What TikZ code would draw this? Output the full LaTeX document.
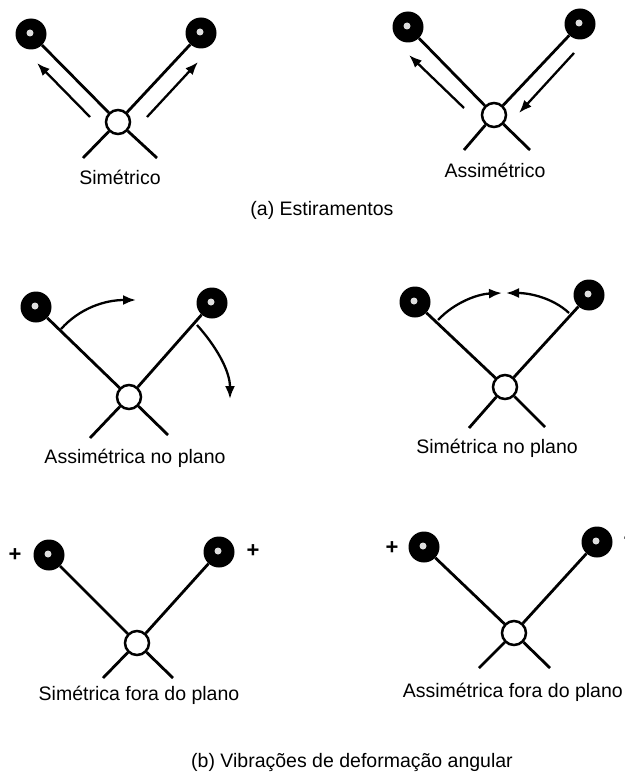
\documentclass[tikz,border=0pt]{standalone}
\usepackage{fontspec}
\setmainfont{Liberation Sans}
\usetikzlibrary{arrows.meta}

\begin{document}
\begin{tikzpicture}[
    x=1pt, y=-1pt,
    atom/.style={circle, fill=black, minimum size=31pt, inner sep=0pt,
        path picture={\fill[gray!25] ([xshift=-1pt,yshift=1pt]path picture bounding box.center) circle (3.5pt);}},
    core/.style={circle, draw, line width=2.5pt, fill=white, minimum size=24pt, inner sep=0pt},
    bond/.style={line width=2.8pt},
    arrow/.style={-{Latex[length=13pt,width=10pt]}, line width=2.3pt},
    lbl/.style={font=\fontsize{19.5}{22}\selectfont},
    sign/.style={font=\fontsize{22}{24}\selectfont\bfseries}
]
\useasboundingbox (0,0) rectangle (624,773);

% Stretching: symmetric
\node[core] (c1) at (118,122) {};
\node[atom] (l1) at (31,34) {};
\node[atom] (r1) at (201,33) {};
\coordinate (c1a) at (83,158);
\coordinate (c1b) at (157,158);
\draw[bond] (c1) -- (l1);
\draw[bond] (c1) -- (r1);
\draw[bond] (c1) -- (c1a);
\draw[bond] (c1) -- (c1b);
\coordinate (p1) at (90,117);
\coordinate (q1) at (37,63);
\coordinate (p2) at (147,117);
\coordinate (q2) at (198,62);
\draw[arrow] (p1) -- (q1);
\draw[arrow] (p2) -- (q2);
\node[lbl] (t1) at (120,177) {Simétrico};

% Stretching: asymmetric
\node[core] (c2) at (494,115) {};
\node[atom] (l2) at (408,27) {};
\node[atom] (r2) at (580,24) {};
\coordinate (c2a) at (464,150);
\coordinate (c2b) at (530,150);
\draw[bond] (c2) -- (l2);
\draw[bond] (c2) -- (r2);
\draw[bond] (c2) -- (c2a);
\draw[bond] (c2) -- (c2b);
\coordinate (p3) at (464,108);
\coordinate (q3) at (409,55);
\coordinate (p4) at (574,53);
\coordinate (q4) at (519,113);
\draw[arrow] (p3) -- (q3);
\draw[arrow] (p4) -- (q4);
\node[lbl] (t2) at (495,170) {Assimétrico};

\node[lbl] (ta) at (322,210) {(a) Estiramentos};

% Bending: asymmetric in plane
\node[core] (c3) at (129,397) {};
\node[atom] (l3) at (36,307) {};
\node[atom] (r3) at (212,303) {};
\coordinate (c3a) at (90,438);
\coordinate (c3b) at (168,435);
\draw[bond] (c3) -- (l3);
\draw[bond] (c3) -- (r3);
\draw[bond] (c3) -- (c3a);
\draw[bond] (c3) -- (c3b);
\coordinate (p5) at (61,329);
\coordinate (q5) at (136,300);
\coordinate (p6) at (197,325);
\coordinate (q6) at (230,399);
\draw[arrow] (p5) .. controls (80,308) and (105,300) .. (q5);
\draw[arrow] (p6) .. controls (215,345) and (230,370) .. (q6);
\node[lbl] (t3) at (135,458) {Assimétrica no plano};

% Bending: symmetric in plane
\node[core] (c4) at (505,387) {};
\node[atom] (l4) at (415,302) {};
\node[atom] (r4) at (589,295) {};
\coordinate (c4a) at (469,428);
\coordinate (c4b) at (545,427);
\draw[bond] (c4) -- (l4);
\draw[bond] (c4) -- (r4);
\draw[bond] (c4) -- (c4a);
\draw[bond] (c4) -- (c4b);
\coordinate (p7) at (438,320);
\coordinate (q7) at (502,293);
\coordinate (p8) at (569,313);
\coordinate (q8) at (506,293);
\draw[arrow] (p7) .. controls (455,302) and (478,294) .. (q7);
\draw[arrow] (p8) .. controls (553,298) and (530,293) .. (q8);
\node[lbl] (t4) at (497,448) {Simétrica no plano};

% Bending: symmetric out of plane
\node[core] (c5) at (137,643) {};
\node[atom] (l5) at (49,555) {};
\node[atom] (r5) at (219,552) {};
\coordinate (c5a) at (103,678);
\coordinate (c5b) at (173,678);
\draw[bond] (c5) -- (l5);
\draw[bond] (c5) -- (r5);
\draw[bond] (c5) -- (c5a);
\draw[bond] (c5) -- (c5b);
\node[sign] (s5a) at (15,555) {+};
\node[sign] (s5b) at (253,551) {+};
\node[lbl] (t5) at (139,695) {Simétrica fora do plano};

% Bending: asymmetric out of plane
\node[core] (c6) at (514,633) {};
\node[atom] (l6) at (424,547) {};
\node[atom] (r6) at (597,542) {};
\coordinate (c6a) at (479,668);
\coordinate (c6b) at (550,668);
\draw[bond] (c6) -- (l6);
\draw[bond] (c6) -- (r6);
\draw[bond] (c6) -- (c6a);
\draw[bond] (c6) -- (c6b);
\node[sign] (s6a) at (392,548) {+};
\node[sign] (s6b) at (630,541) {−};
\node[lbl, anchor=east, inner sep=1pt] (t6) at (624,692) {Assimétrica fora do plano};

\node[lbl] (tb) at (352,762) {(b) Vibrações de deformação angular};

\end{tikzpicture}
\end{document}
